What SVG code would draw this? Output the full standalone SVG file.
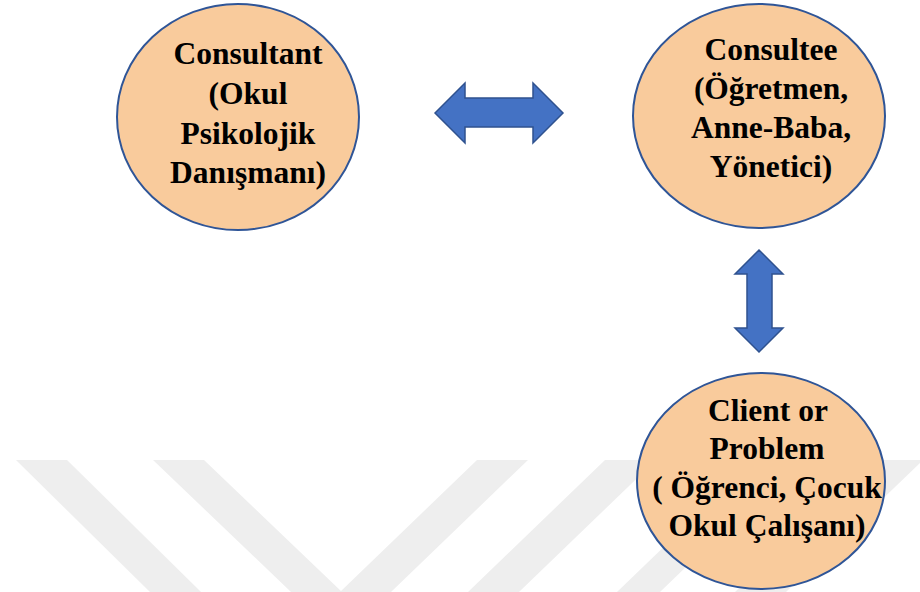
<svg xmlns="http://www.w3.org/2000/svg" width="920" height="592" viewBox="0 0 920 592">
<style>
.node{fill:#F9CB9C;stroke:#2F5597;stroke-width:2}
.lbl{font-family:"Liberation Serif","Times New Roman",serif;font-weight:bold;font-size:31.5px;fill:#000;text-anchor:middle}
.arrow{fill:#4472C4;stroke:#2F528F;stroke-width:1.5;stroke-linejoin:miter}
.wm{fill:#EEEEEE}
</style>
<rect x="0" y="0" width="920" height="592" fill="#FFFFFF"/>
<g id="watermark">
<polygon class="wm" points="16,460 67,460 201,592 150,592"/>
<polygon class="wm" points="153,460 204,460 342,592 291,592"/>
<polygon class="wm" points="477,460 528,460 391,592 340,592"/>
<polygon class="wm" points="605,460 656,460 519,592 468,592"/>
<polygon class="wm" points="754,460 797,460 660,592 617,592"/>
<polygon class="wm" points="872,460 923,460 786,592 735,592"/>
</g>
<g id="connectors">
<polygon class="arrow" points="435,113 465,83 465,98 533,98 533,83 563,113 533,143 533,127 465,127 465,143"/>
<polygon class="arrow" points="759,250 783,274 772,274 772,328 783,328 759,352 735,328 747,328 747,274 735,274"/>
</g>
<g id="consultant">
<ellipse class="node" cx="238" cy="117" rx="121" ry="113"/>
<text class="lbl" x="248" y="64">Consultant</text>
<text class="lbl" x="248" y="104">(Okul</text>
<text class="lbl" x="248" y="144">Psikolojik</text>
<text class="lbl" x="248" y="183">Danışmanı)</text>
</g>
<g id="consultee">
<ellipse class="node" cx="759" cy="116" rx="126" ry="112"/>
<text class="lbl" x="771" y="60">Consultee</text>
<text class="lbl" x="771" y="99">(Öğretmen,</text>
<text class="lbl" x="771" y="138">Anne-Baba,</text>
<text class="lbl" x="771" y="177">Yönetici)</text>
</g>
<g id="client">
<ellipse class="node" cx="761" cy="481" rx="124" ry="108"/>
<text class="lbl" x="768" y="421">Client or</text>
<text class="lbl" x="767" y="459">Problem</text>
<text class="lbl" x="767" y="498">( Öğrenci, Çocuk</text>
<text class="lbl" x="767" y="536">Okul Çalışanı)</text>
</g>
</svg>
